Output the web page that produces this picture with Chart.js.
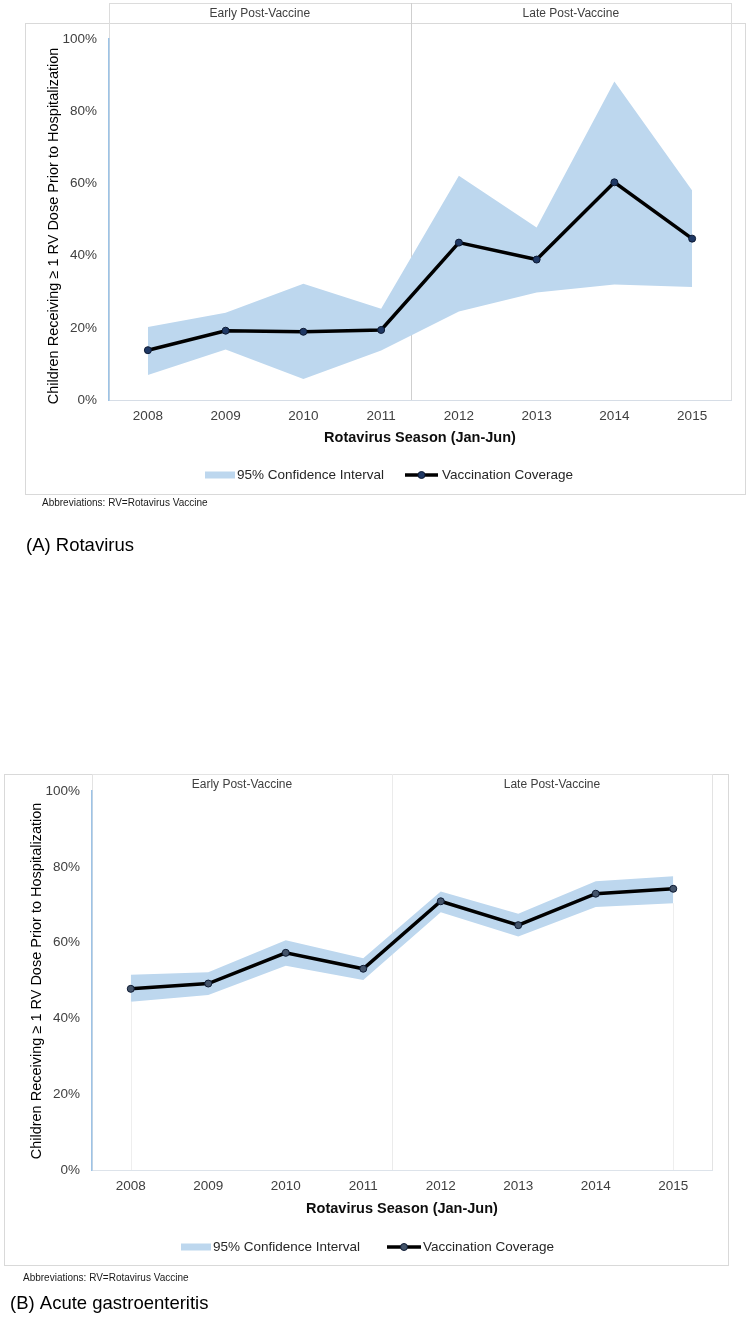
<!DOCTYPE html>
<html>
<head>
<meta charset="utf-8">
<script src="https://cdn.jsdelivr.net/npm/chart.js@4.4.1/dist/chart.umd.min.js"></script>
<style>
html,body{margin:0;padding:0;background:#fff;width:748px;height:1318px;overflow:hidden}
canvas{position:absolute;left:0}
</style>
</head>
<body>
<canvas id="cA" width="748" height="570" style="top:0px"></canvas>
<canvas id="cB" width="748" height="578" style="top:740px"></canvas>
<script>
// ---- data ----
const categories = ['2008','2009','2010','2011','2012','2013','2014','2015'];
const periodLabels = ['Early Post-Vaccine','Late Post-Vaccine'];
const yTickValues = [0,20,40,60,80,100];

// (A) Rotavirus
const rotaCoverage = [13.8, 19.2, 18.9, 19.4, 43.6, 38.9, 60.3, 44.7];
const rotaUpper    = [20.2, 24.2, 32.2, 25.3, 62.1, 47.8, 88.2, 58.0];
const rotaLower    = [ 6.9, 14.0,  5.8, 13.7, 24.5, 29.8, 32.0, 31.3];

// (B) Acute gastroenteritis
const ageCoverage = [47.8, 49.2, 57.3, 53.1, 70.9, 64.6, 72.9, 74.2];
const ageUpper    = [51.5, 52.2, 60.6, 55.9, 73.5, 67.6, 76.2, 77.5];
const ageLower    = [44.4, 46.2, 53.9, 50.1, 68.0, 61.6, 69.4, 70.4];

const yTitle = 'Children Receiving \u2265 1 RV Dose Prior to Hospitalization';
const xTitle = 'Rotavirus Season (Jan-Jun)';
const legendCI = '95% Confidence Interval';
const legendCov = 'Vaccination Coverage';
const abbrev = 'Abbreviations: RV=Rotavirus Vaccine';

const FONT = "'Liberation Sans', Arial, Helvetica, sans-serif";
const CI_COLOR = '#bdd7ee';

function makeChart(id, upper, lower, coverage, L) {
  const overlay = {
    id: 'overlay_' + id,
    beforeDraw(chart) {
      const ctx = chart.ctx;
      ctx.save();
      ctx.fillStyle = '#fff';
      ctx.fillRect(0, 0, chart.width, chart.height);
      ctx.strokeStyle = '#d9d9d9';
      ctx.lineWidth = 1;
      const f = L.frame;
      ctx.strokeRect(f[0] + 0.5, f[1] + 0.5, f[2] - f[0], f[3] - f[1]);
      const a = chart.chartArea;
      const xs = chart.scales.x;
      ctx.strokeStyle = L.boxColor;
      ctx.strokeRect(Math.round(a.left) + 0.5, L.boxTop + 0.5, Math.round(a.right - a.left), Math.round(a.bottom) - L.boxTop);
      const dx = Math.round(xs.getPixelForValue(L.divider)) + 0.5;
      ctx.strokeStyle = L.dividerColor;
      ctx.beginPath();
      ctx.moveTo(dx, L.boxTop);
      ctx.lineTo(dx, a.bottom);
      ctx.stroke();
      if (L.dropLines) {
        const ys = chart.scales.y;
        ctx.strokeStyle = '#eeeeee';
        [0, categories.length - 1].forEach(i => {
          const px = Math.round(xs.getPixelForValue(i)) + 0.5;
          ctx.beginPath();
          ctx.moveTo(px, ys.getPixelForValue(lower[i]));
          ctx.lineTo(px, a.bottom);
          ctx.stroke();
        });
      }
      ctx.restore();
    },
    afterDraw(chart) {
      const ctx = chart.ctx;
      const a = chart.chartArea;
      const xs = chart.scales.x;
      const dx = xs.getPixelForValue(L.divider);
      ctx.save();
      // period headers
      ctx.font = '12px ' + FONT;
      ctx.fillStyle = '#404040';
      ctx.textAlign = 'center';
      ctx.textBaseline = 'middle';
      ctx.fillText(periodLabels[0], (a.left + dx) / 2, L.headerY);
      ctx.fillText(periodLabels[1], (dx + a.right) / 2, L.headerY);
      // x title
      ctx.font = 'bold 14.5px ' + FONT;
      ctx.fillStyle = '#0d0d0d';
      ctx.fillText(xTitle, (a.left + a.right) / 2, L.xTitleY);
      // y title
      ctx.save();
      ctx.translate(L.yTitleX, L.yTitleY);
      ctx.rotate(-Math.PI / 2);
      ctx.font = '14.5px ' + FONT;
      ctx.fillStyle = '#000';
      ctx.fillText(yTitle, 0, 0);
      ctx.restore();
      // legend
      ctx.fillStyle = CI_COLOR;
      ctx.fillRect(L.swatchX, L.legendY - 3.5, 30, 7);
      ctx.font = '13.5px ' + FONT;
      ctx.fillStyle = '#262626';
      ctx.textAlign = 'left';
      ctx.fillText(legendCI, L.ciTextX, L.legendY);
      ctx.strokeStyle = '#000';
      ctx.lineWidth = 3.5;
      ctx.beginPath();
      ctx.moveTo(L.lineX1, L.legendY);
      ctx.lineTo(L.lineX2, L.legendY);
      ctx.stroke();
      ctx.beginPath();
      ctx.arc((L.lineX1 + L.lineX2) / 2, L.legendY, 3.5, 0, Math.PI * 2);
      ctx.fillStyle = L.markerColor;
      ctx.fill();
      ctx.lineWidth = 1;
      ctx.strokeStyle = '#0d1a33';
      ctx.stroke();
      ctx.fillStyle = '#262626';
      ctx.fillText(legendCov, L.covTextX, L.legendY);
      // abbreviations
      ctx.font = '10px ' + FONT;
      ctx.fillStyle = '#1a1a1a';
      ctx.fillText(abbrev, L.abbrevX, L.abbrevY);
      // caption
      ctx.font = '18.5px ' + FONT;
      ctx.fillStyle = '#000';
      ctx.fillText(L.caption, L.captionX, L.captionY);
      ctx.restore();
    }
  };

  return new Chart(document.getElementById(id), {
    type: 'line',
    data: {
      labels: categories,
      datasets: [
        { label: '95% CI upper', data: upper, borderWidth: 0, borderColor: 'rgba(0,0,0,0)',
          pointRadius: 0, fill: '+1', backgroundColor: CI_COLOR, tension: 0 },
        { label: '95% CI lower', data: lower, borderWidth: 0, borderColor: 'rgba(0,0,0,0)',
          pointRadius: 0, fill: false, tension: 0 },
        { label: legendCov, data: coverage, borderColor: '#000', borderWidth: 3.5,
          pointRadius: 3.5, pointBackgroundColor: L.markerColor, pointBorderColor: '#0d1a33',
          pointBorderWidth: 1, fill: false, tension: 0, order: -1 }
      ]
    },
    options: {
      responsive: false,
      animation: false,
      devicePixelRatio: 1,
      layout: { padding: { left: 0, top: L.plotTop, right: 748 - L.plotRight, bottom: L.canvasH - L.plotBottom - 40 } },
      plugins: { legend: { display: false }, tooltip: { enabled: false } },
      scales: {
        x: {
          offset: true,
          grid: { display: false, drawTicks: false },
          border: { display: true, color: L.axisColor, width: 1 },
          ticks: { padding: 8, color: '#404040', font: { family: FONT, size: 13.5 }, maxRotation: 0, autoSkip: false },
          afterFit(s) { s.height = 40; }
        },
        y: {
          min: 0, max: 100,
          afterBuildTicks(s) { s.ticks = yTickValues.map(v => ({ value: v })); },
          grid: { display: false, drawTicks: false },
          border: { display: true, color: '#9dc3e6', width: 1.5 },
          ticks: { padding: 12, color: '#404040', font: { family: FONT, size: 13.5 },
                   callback: v => v + '%' },
          afterFit(s) { s.width = L.plotLeft; }
        }
      }
    },
    plugins: [overlay]
  });
}

makeChart('cA', rotaUpper, rotaLower, rotaCoverage, {
  plotLeft: 109, plotRight: 731, plotTop: 39, plotBottom: 400, canvasH: 570,
  boxTop: 3, frame: [25, 23, 745, 494], divider: 3.38, headerY: 14,
  boxColor: '#dcdcdc', dividerColor: '#cfcfcf', axisColor: '#d6dde6',
  yTitleX: 54, yTitleY: 226, xTitleY: 438, legendY: 475,
  swatchX: 205, ciTextX: 237, lineX1: 405, lineX2: 438, covTextX: 442,
  abbrevX: 42, abbrevY: 503, captionX: 26, captionY: 546,
  caption: '(A) Rotavirus', markerColor: '#1f3864', dropLines: false
});

makeChart('cB', ageUpper, ageLower, ageCoverage, {
  plotLeft: 92, plotRight: 712, plotTop: 51, plotBottom: 430, canvasH: 578,
  boxTop: 34, frame: [4, 34, 728, 525], divider: 3.37, headerY: 45,
  boxColor: '#e3e3e3', dividerColor: '#ebebeb', axisColor: '#dde3ea',
  yTitleX: 37, yTitleY: 241, xTitleY: 469, legendY: 507,
  swatchX: 181, ciTextX: 213, lineX1: 387, lineX2: 421, covTextX: 423,
  abbrevX: 23, abbrevY: 538, captionX: 10, captionY: 564,
  caption: '(B) Acute gastroenteritis', markerColor: '#44546a', dropLines: true
});
</script>
</body>
</html>
